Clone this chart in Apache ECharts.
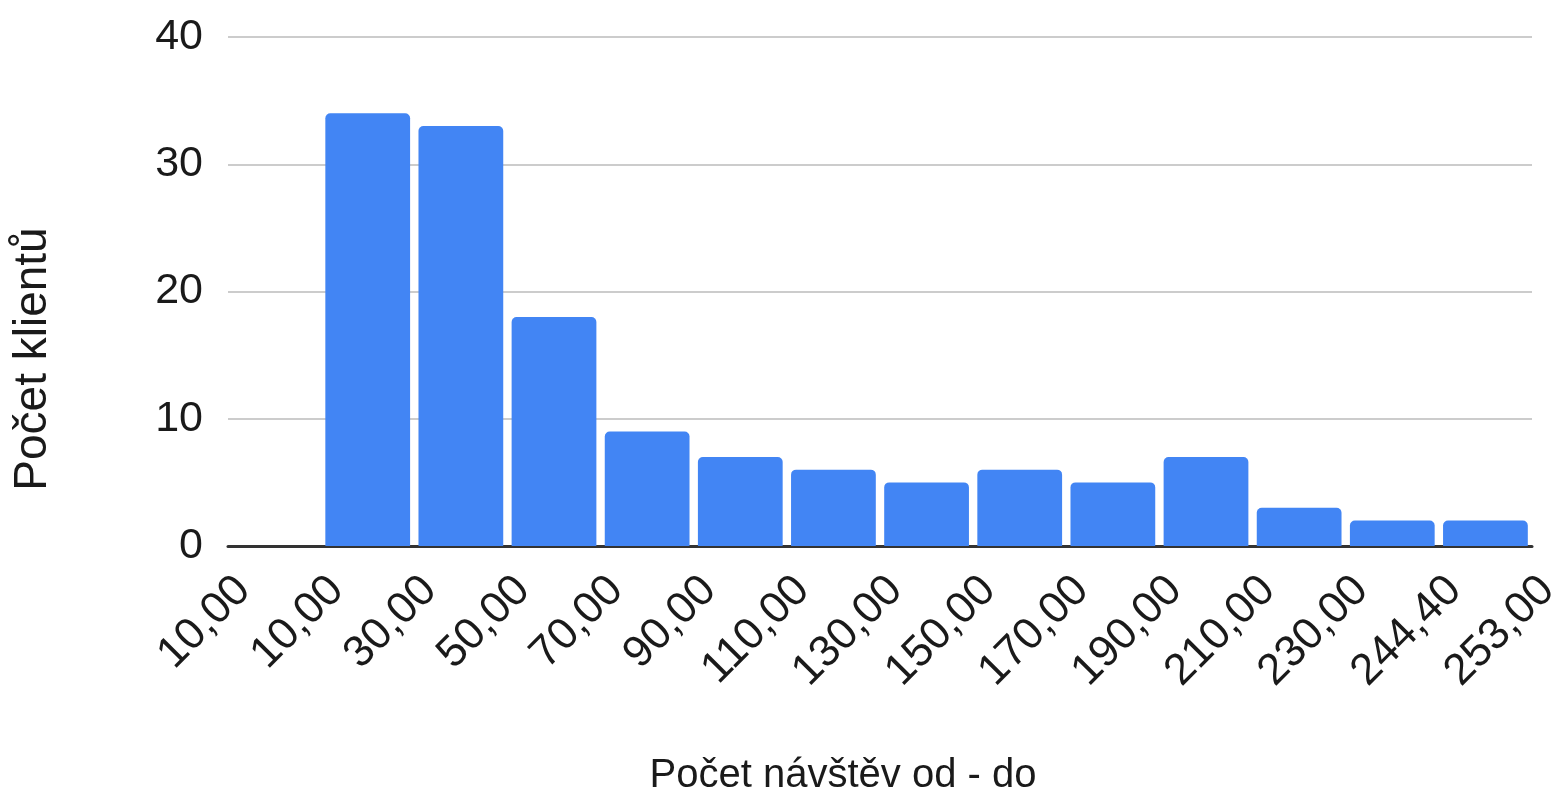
<!DOCTYPE html>
<html>
<head>
<meta charset="utf-8">
<script src="https://cdn.jsdelivr.net/npm/echarts@6/dist/echarts.min.js"></script>
<style>
html,body{margin:0;padding:0;background:#fff;}
#c{width:1557px;height:795px;}
</style>
</head>
<body>
<div id="c"></div>
<script>
// Bins (slots between boundary labels)
const binNames = ["10,00-10,00","10,00-30,00","30,00-50,00","50,00-70,00","70,00-90,00","90,00-110,00","110,00-130,00","130,00-150,00","150,00-170,00","170,00-190,00","190,00-210,00","210,00-230,00","230,00-244,40","244,40-253,00"];
const counts = [0, 34, 33, 18, 9, 7, 6, 5, 6, 5, 7, 3, 2, 2];
// Boundary tick labels
const boundaryLabels = ["10,00","10,00","30,00","50,00","70,00","90,00","110,00","130,00","150,00","170,00","190,00","210,00","230,00","244,40","253,00"];
const yTicks = [0, 10, 20, 30, 40];
const xTitle = "Počet návštěv od - do";
const yTitle = "Počet klientů";

const FONT = "Liberation Sans, Arial, sans-serif";
const chart = echarts.init(document.getElementById('c'));
chart.setOption({
  animation: false,
  grid: {left: 228, right: 25, top: 37, bottom: 249, containLabel: false, outerBoundsMode: 'none'},
  xAxis: [
    {
      type: 'category',
      data: binNames,
      boundaryGap: true,
      axisLine: {show: true, lineStyle: {color: '#333', width: 3}},
      axisTick: {show: false},
      axisLabel: {show: false},
      splitLine: {show: false}
    },
    {
      type: 'category',
      data: boundaryLabels,
      boundaryGap: false,
      position: 'bottom',
      axisLine: {show: false},
      axisTick: {show: false},
      splitLine: {show: false},
      axisLabel: {
        show: true, interval: 0, rotate: 45, margin: 22, verticalAlign: 'top',
        fontFamily: FONT, fontSize: 44, color: '#1a1a1a'
      }
    }
  ],
  yAxis: {
    type: 'value',
    min: yTicks[0], max: yTicks[yTicks.length - 1], interval: 10,
    axisLine: {show: false},
    axisTick: {show: false},
    splitLine: {show: true, lineStyle: {color: '#ccc', width: 2}},
    axisLabel: {fontFamily: FONT, fontSize: 43, color: '#1a1a1a', margin: 25}
  },
  series: [{
    type: 'bar',
    xAxisIndex: 0,
    data: counts,
    barCategoryGap: '9%',
    itemStyle: {color: '#4285F4', borderRadius: [5, 5, 0, 0]}
  }],
  graphic: [
    {
      type: 'text', x: 843, y: 776,
      style: {text: xTitle, font: '40px ' + FONT, fill: '#1a1a1a', textAlign: 'center', textVerticalAlign: 'middle'}
    },
    {
      type: 'text', x: 33, y: 359, rotation: Math.PI / 2,
      style: {text: yTitle, font: '46px ' + FONT, fill: '#1a1a1a', textAlign: 'center', textVerticalAlign: 'middle'}
    }
  ]
});
</script>
</body>
</html>
